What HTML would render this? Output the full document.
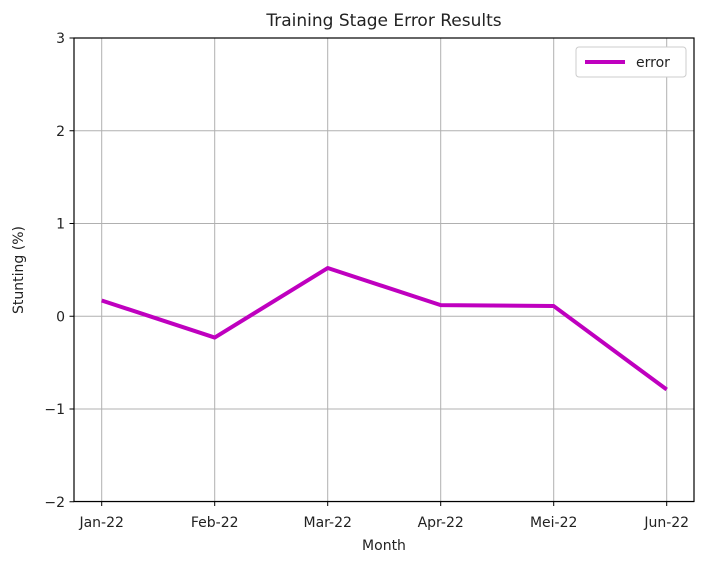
<!DOCTYPE html>
<html><head><meta charset="utf-8"><style>
body{margin:0;background:#fff;font-family:"Liberation Sans","DejaVu Sans",sans-serif;}
svg text{font-family:"DejaVu Sans","Liberation Sans",sans-serif;fill:#222;}
</style></head><body>
<svg id="chart" width="702" height="566" xmlns="http://www.w3.org/2000/svg">
<text x="384" y="26" font-size="17" text-anchor="middle">Training Stage Error Results</text>
<g id="grid"></g>
<g id="series"></g>
<rect x="74" y="38" width="620" height="463.5" fill="none" stroke="#000" stroke-width="1.2"/>
<g id="ticks"></g>
<text x="384" y="550" font-size="14" text-anchor="middle">Month</text>
<text transform="translate(23,270) rotate(-90)" font-size="14" text-anchor="middle">Stunting (%)</text>
<g>
<rect x="576" y="47" width="110" height="30" rx="3" fill="#fff" stroke="#ccc"/>
<line x1="585" y1="62" x2="625" y2="62" stroke="#bf00bf" stroke-width="4"/>
<text x="636" y="67" font-size="14">error</text>
</g>
</svg>
<script>
const categories=["Jan-22","Feb-22","Mar-22","Apr-22","Mei-22","Jun-22"];
const errorValues=[0.17,-0.23,0.52,0.12,0.11,-0.79];
const yTicks=[3,2,1,0,-1,-2];
const yTickLabels=["3","2","1","0","\u22121","\u22122"];
const NS="http://www.w3.org/2000/svg";
const x=i=>101.7+i*113;
const y=v=>38+(3-v)*92.75;
const grid=document.getElementById('grid'),ticks=document.getElementById('ticks'),series=document.getElementById('series');
function mk(tag,attrs,parent,txt){const e=document.createElementNS(NS,tag);for(const k in attrs)e.setAttribute(k,attrs[k]);if(txt!==undefined)e.textContent=txt;parent.appendChild(e);return e;}
categories.forEach((c,i)=>{
 const g=mk('line',{x1:x(i),x2:x(i),y1:38,y2:501.5,stroke:'#b0b0b0','stroke-width':1},grid);
 
 
 mk('line',{x1:x(i),x2:x(i),y1:501.5,y2:506,stroke:'#000'},ticks);
 const t=mk('text',{x:x(i),y:527,'font-size':14,'text-anchor':'middle'},ticks,c);
 
 
});
yTicks.forEach((v,i)=>{
 const g=mk('line',{x1:74,x2:694,y1:y(v),y2:y(v),stroke:'#b0b0b0','stroke-width':1},grid);
 
 
 mk('line',{x1:69.5,x2:74,y1:y(v),y2:y(v),stroke:'#000'},ticks);
 const t=mk('text',{x:65,y:y(v)+5,'font-size':14,'text-anchor':'end'},ticks,yTickLabels[i]);
 
 
});
const pl=mk('polyline',{points:errorValues.map((v,i)=>x(i)+','+y(v)).join(' '),fill:'none',stroke:'#bf00bf','stroke-width':4,'stroke-linejoin':'round'},series);


</script>
</body></html>
